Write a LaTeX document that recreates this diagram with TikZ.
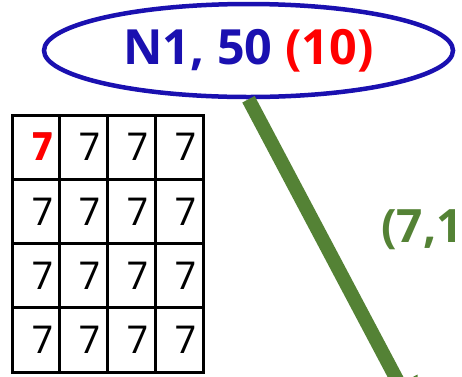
\documentclass[tikz,border=0pt]{standalone}
\usepackage{fontspec}
\setmainfont{Poppins}
\newfontfamily\labelfont{Open Sans}
\usepackage{tikz}
\usetikzlibrary{shapes.geometric, positioning, arrows.meta}
\definecolor{nodeblue}{RGB}{26,16,176}
\definecolor{edgegreen}{RGB}{84,130,53}
\tikzset{
  treenode/.style={ellipse, draw=nodeblue, line width=4.5pt, minimum width=409pt,
    minimum height=93pt, inner sep=0pt, text=nodeblue,
    font=\labelfont\bfseries\fontsize{48.5}{58}\selectfont},
  cellbox/.style={draw, line width=3pt, minimum width=47.75pt, minimum height=64.25pt, inner sep=0pt},
  cellnum/.style={font=\fontsize{38}{44}\selectfont, inner sep=0pt, xshift=6.5pt},
  edgeline/.style={draw=edgegreen, line width=14pt, -{Triangle[width=38pt,length=40pt]}},
  edgelabel/.style={text=edgegreen, font=\labelfont\bfseries\fontsize{46}{54}\selectfont, inner sep=0pt}
}
\begin{document}
\begin{tikzpicture}[x=1pt,y=-1pt]
  \useasboundingbox (0,0) rectangle (462,376);
  \clip (0,0) rectangle (462,376);

  % Root node
  \node[treenode] (n1) at (248.5,50.5) {N1, 50 \textcolor{red}{(10)}};

  % Table of values
  \foreach \r in {1,...,4}
    \foreach \c in {1,...,4}
      \node[cellbox] (cell\r\c) at ({12+47.75*(\c-0.5)},{115+64.25*(\r-0.5)}) {};
  \foreach \r in {1,...,4}
    \foreach \c in {1,...,4}
      \node[cellnum] (num\r\c) at (cell\r\c.center) {7};
  \node[cellnum, text=red, font=\bfseries\fontsize{38}{44}\selectfont] at (cell11.center) {7};

  % Edge to child
  \coordinate (child) at (418,419.5);
  \draw[edgeline] (n1.south) -- (child);
  \node[edgelabel, anchor=base west] (wlabel) at (381,242.5) {(7,1};

\end{tikzpicture}
\end{document}
